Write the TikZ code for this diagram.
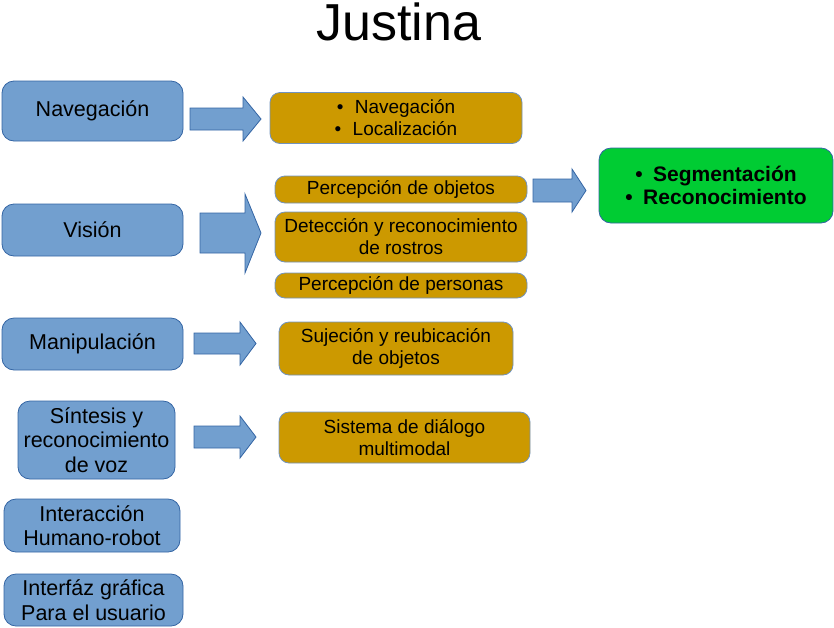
\documentclass[tikz,border=0pt]{standalone}
\usepackage{fontspec}
\setmainfont{Liberation Sans}
\definecolor{bfill}{HTML}{729FCF}
\definecolor{bline}{HTML}{3465A4}
\definecolor{gfill}{HTML}{CC9900}
\definecolor{grfill}{HTML}{00CC33}
\begin{document}
\begin{tikzpicture}[x=1pt,y=-1pt,
  bluebox/.style={draw=bline,fill=bfill,line width=0.8pt,rounded corners=12pt,align=center,inner sep=0pt,
    font=\fontsize{21.5}{24.5}\selectfont},
  goldbox/.style={draw=bline!70,fill=gfill,line width=0.8pt,rounded corners=10pt,align=center,inner sep=0pt,
    font=\fontsize{19}{22}\selectfont},
  greenbox/.style={draw=bline,fill=grfill,line width=0.8pt,rounded corners=12pt,align=center,inner sep=0pt,
    font=\bfseries\fontsize{21}{23.5}\selectfont},
  blockarr/.style={draw=bline,fill=bfill,line width=0.8pt,line join=miter}]
\useasboundingbox (0,0) rectangle (834,627);
\newcommand{\barrow}[8]{%
  \draw[blockarr] (#1,#4) -- (#2,#4) -- (#2,#6) -- (#3,#8) -- (#2,#7) -- (#2,#5) -- (#1,#5) -- cycle;}
% title
\node[anchor=base,font=\fontsize{52}{56}\selectfont] (title) at (399,40) {Justina};
% left boxes
\node[bluebox,minimum width=181pt,minimum height=60pt] (nav) at (92.5,111) {Navegación};
\node[bluebox,minimum width=181pt,minimum height=52pt] (vis) at (92.5,230) {Visión};
\node[bluebox,minimum width=181pt,minimum height=52pt] (man) at (92.5,344) {Manipulación};
\node[bluebox,minimum width=157pt,minimum height=78pt] (sin) at (96.5,440) {Síntesis y\\reconocimiento\\de voz};
\node[bluebox,minimum width=176pt,minimum height=53pt] (int) at (92,525.5) {Interacción\\Humano-robot};
\node[bluebox,minimum width=179pt,minimum height=52pt] (gui) at (93.5,600) {Interfáz gráfica\\Para el usuario};
% gold boxes
\node[goldbox,minimum width=252pt,minimum height=51pt] (gnav) at (396,118) {•\hspace{0.6em}Navegación\\•\hspace{0.6em}Localización};
\node[goldbox,minimum width=252pt,minimum height=27pt] (gobj) at (401,189.5) {Percepción de objetos};
\node[goldbox,minimum width=252pt,minimum height=50pt] (gdet) at (401,237) {Detección y reconocimiento\\de rostros};
\node[goldbox,minimum width=252pt,minimum height=25pt] (gper) at (401,285.5) {Percepción de personas};
\node[goldbox,minimum width=234pt,minimum height=53pt] (gsuj) at (396,348.5) {Sujeción y reubicación\\de objetos};
\node[goldbox,minimum width=251pt,minimum height=51pt] (gdia) at (404.5,437.5) {Sistema de diálogo\\multimodal};
% green box
\node[greenbox,minimum width=234pt,minimum height=75pt] (seg) at (716,185.5) {•\hspace{0.5em}Segmentación\\•\hspace{0.5em}Reconocimiento};
% block arrows
\barrow{190}{243}{261}{108}{130}{97}{141}{119}
\barrow{200}{245}{261}{213}{253}{194}{273}{233}
\barrow{194}{240}{256}{333}{354}{322}{365}{343.5}
\barrow{194}{240}{256}{426}{448}{416}{458}{437}
\barrow{533}{572}{586}{179}{202}{169}{212}{190.5}
\end{tikzpicture}
\end{document}
